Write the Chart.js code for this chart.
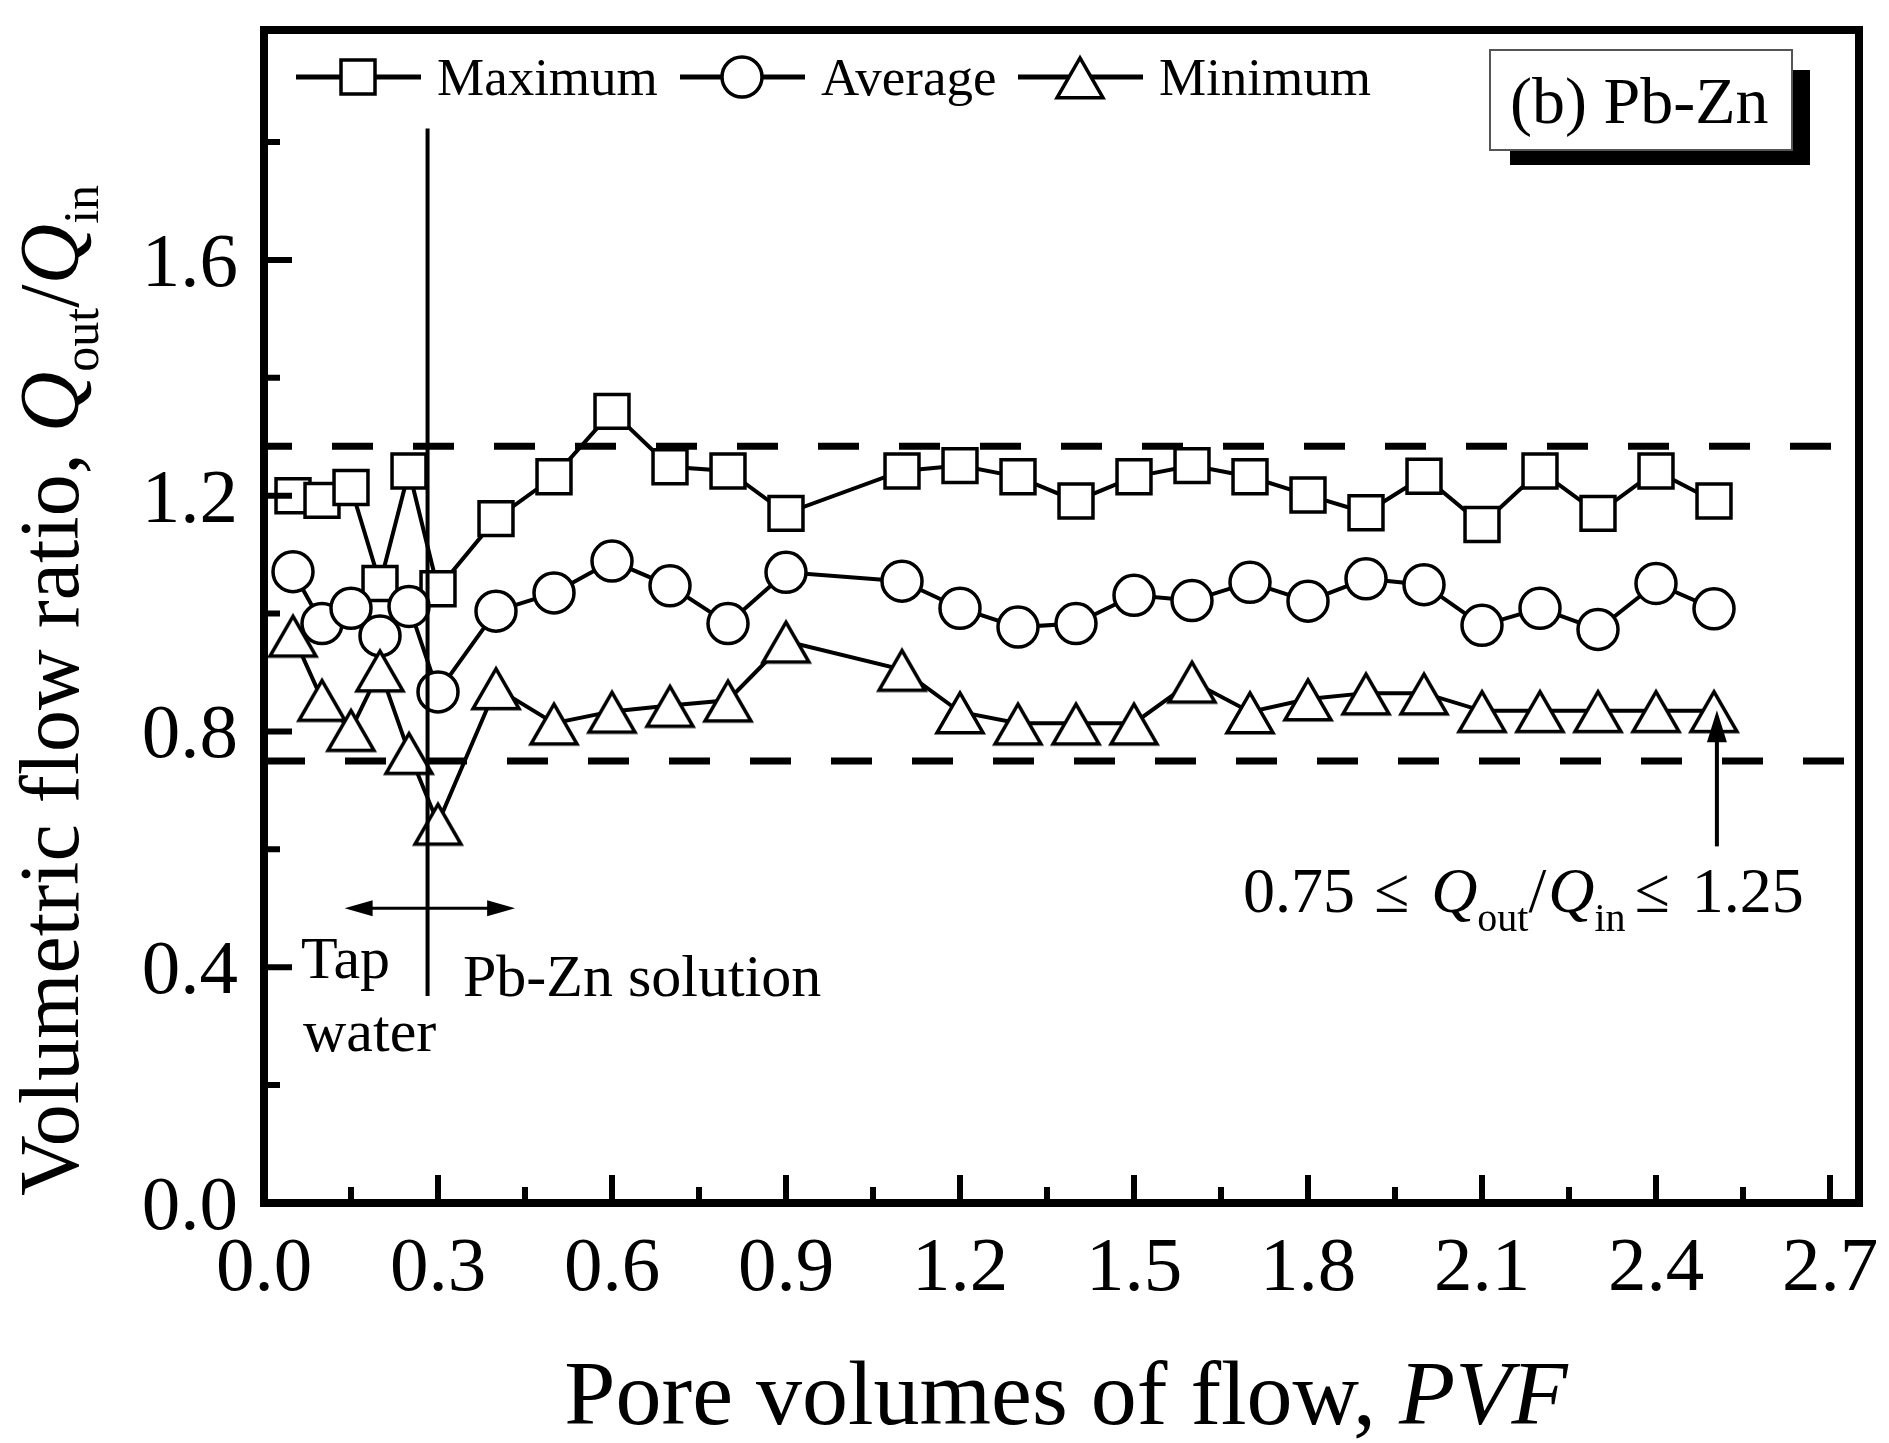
<!DOCTYPE html>
<html>
<head>
<meta charset="utf-8">
<script src="https://cdn.jsdelivr.net/npm/chart.js@4.4.1/dist/chart.umd.min.js"></script>
<style>
  html, body { margin: 0; padding: 0; background: #fff; }
</style>
</head>
<body>
<canvas id="myChart" width="1889" height="1443"></canvas>
<script>
// pore volumes of flow (x) and the three flow ratio series
const pvf = [0.05, 0.1, 0.15, 0.2, 0.25, 0.3, 0.4, 0.5, 0.6, 0.7, 0.8, 0.9, 1.1, 1.2, 1.3, 1.4, 1.5, 1.6, 1.7, 1.8, 1.9, 2.0, 2.1, 2.2, 2.3, 2.4, 2.5];
const maximum = [1.200, 1.192, 1.214, 1.051, 1.242, 1.042, 1.161, 1.232, 1.343, 1.249, 1.242, 1.170, 1.242, 1.251, 1.232, 1.191, 1.232, 1.251, 1.232, 1.201, 1.171, 1.233, 1.151, 1.242, 1.170, 1.242, 1.191];
const average = [1.071, 0.983, 1.009, 0.962, 1.012, 0.867, 1.004, 1.035, 1.089, 1.047, 0.983, 1.070, 1.055, 1.009, 0.977, 0.983, 1.031, 1.022, 1.053, 1.021, 1.059, 1.049, 0.980, 1.009, 0.973, 1.051, 1.008];
const minimum = [0.963, 0.854, 0.803, 0.904, 0.764, 0.644, 0.874, 0.814, 0.834, 0.844, 0.853, 0.953, 0.905, 0.833, 0.814, 0.814, 0.814, 0.885, 0.833, 0.855, 0.865, 0.865, 0.835, 0.835, 0.835, 0.835, 0.835];
const seriesNames = ['Maximum', 'Average', 'Minimum'];

// guide lines
const limitX = [0, 2.75];
const limitLower = [0.75, 0.75];
const limitUpper = [1.284, 1.284];
const switchX = [0.282, 0.282];
const switchY = [0.351, 1.823];

// axes
const xTicks = [0, 0.3, 0.6, 0.9, 1.2, 1.5, 1.8, 2.1, 2.4, 2.7];
const xTickLabels = ['0.0', '0.3', '0.6', '0.9', '1.2', '1.5', '1.8', '2.1', '2.4', '2.7'];
const xMinorTicks = [0.15, 0.45, 0.75, 1.05, 1.35, 1.65, 1.95, 2.25, 2.55];
const yTicks = [0, 0.4, 0.8, 1.2, 1.6];
const yTickLabels = ['0.0', '0.4', '0.8', '1.2', '1.6'];
const yMinorTicks = [0.2, 0.6, 1.0, 1.4, 1.8];

const SERIF = '"Liberation Serif", "Times New Roman", serif';
const font = (size, style) => (style ? style + ' ' : '') + size + 'px ' + SERIF;

function makeTriangle(side, lw) {
  const h = side * Math.sqrt(3) / 2;
  const c = document.createElement('canvas');
  c.width = Math.ceil(side + lw * 4);
  c.height = Math.ceil(h + lw * 4);
  const g = c.getContext('2d');
  const cx = c.width / 2, cy = c.height / 2 + lw / 4;
  g.beginPath();
  g.moveTo(cx, cy - h / 2);
  g.lineTo(cx + side / 2, cy + h / 2);
  g.lineTo(cx - side / 2, cy + h / 2);
  g.closePath();
  g.fillStyle = '#fff';
  g.fill();
  g.lineWidth = lw;
  g.lineJoin = 'miter';
  g.strokeStyle = '#000';
  g.stroke();
  return c;
}
const triangle = makeTriangle(46, 3.5);

function pts(xs, ys) {
  return xs.map((x, i) => ({ x: x, y: ys[i] }));
}

function drawRuns(ctx, runs, x, y) {
  ctx.textAlign = 'left';
  ctx.textBaseline = 'alphabetic';
  runs.forEach(r => {
    x += r.gap || 0;
    ctx.font = r.font;
    ctx.fillText(r.t, x, y + (r.dy || 0));
    x += ctx.measureText(r.t).width;
  });
  return x;
}
function runsWidth(ctx, runs) {
  let w = 0;
  runs.forEach(r => { ctx.font = r.font; w += (r.gap || 0) + ctx.measureText(r.t).width; });
  return w;
}

function arrowHead(ctx, tx, ty, dx, dy, len, hw) {
  const bx = tx - dx * len, by = ty - dy * len;
  ctx.beginPath();
  ctx.moveTo(tx, ty);
  ctx.lineTo(bx - dy * hw, by + dx * hw);
  ctx.lineTo(bx + dy * hw, by - dx * hw);
  ctx.closePath();
  ctx.fill();
}

function legendMarker(ctx, kind, cx, cy) {
  ctx.fillStyle = '#fff';
  ctx.strokeStyle = '#000';
  ctx.lineWidth = 3.5;
  if (kind === 'rect') {
    ctx.fillRect(cx - 17, cy - 17, 34, 34);
    ctx.strokeRect(cx - 17, cy - 17, 34, 34);
  } else if (kind === 'circle') {
    ctx.beginPath();
    ctx.arc(cx, cy, 20, 0, Math.PI * 2);
    ctx.fill();
    ctx.stroke();
  } else {
    ctx.drawImage(triangle, cx - triangle.width / 2, cy - triangle.height / 2);
  }
}

const decorations = {
  id: 'decorations',
  afterDraw(chart) {
    const ctx = chart.ctx;
    const a = chart.chartArea;
    const xs = chart.scales.x, ys = chart.scales.y;
    ctx.save();
    ctx.strokeStyle = '#000';
    ctx.fillStyle = '#000';

    // tick marks, pointing inward
    ctx.lineWidth = 6;
    ctx.beginPath();
    xTicks.forEach(v => { const p = xs.getPixelForValue(v); ctx.moveTo(p, a.bottom); ctx.lineTo(p, a.bottom - 28); });
    xMinorTicks.forEach(v => { const p = xs.getPixelForValue(v); ctx.moveTo(p, a.bottom); ctx.lineTo(p, a.bottom - 16); });
    yTicks.forEach(v => { const p = ys.getPixelForValue(v); ctx.moveTo(a.left, p); ctx.lineTo(a.left + 28, p); });
    yMinorTicks.forEach(v => { const p = ys.getPixelForValue(v); ctx.moveTo(a.left, p); ctx.lineTo(a.left + 16, p); });
    ctx.stroke();

    // frame
    ctx.lineWidth = 8;
    ctx.strokeRect(a.left, a.top, a.right - a.left, a.bottom - a.top);

    // tick labels
    ctx.font = font(77);
    ctx.textBaseline = 'alphabetic';
    ctx.textAlign = 'center';
    xTicks.forEach((v, i) => ctx.fillText(xTickLabels[i], xs.getPixelForValue(v), 1290));
    ctx.textAlign = 'right';
    yTicks.forEach((v, i) => ctx.fillText(yTickLabels[i], 238, ys.getPixelForValue(v) + 26));

    // axis titles
    const xTitle = [
      { t: 'Pore volumes of flow, ', font: font(92) },
      { t: 'PVF', font: font(92, 'italic') }
    ];
    drawRuns(ctx, xTitle, 1066 - runsWidth(ctx, xTitle) / 2, 1424);

    const yTitle = [
      { t: 'Volumetric flow ratio, ', font: font(84) },
      { t: 'Q', font: font(84, 'italic') },
      { t: 'out', font: font(50), dy: 20 },
      { t: '/', font: font(84) },
      { t: 'Q', font: font(84, 'italic') },
      { t: 'in', font: font(50), dy: 20 }
    ];
    ctx.save();
    ctx.translate(78, 1196);
    ctx.rotate(-Math.PI / 2);
    drawRuns(ctx, yTitle, 0, 0);
    ctx.restore();

    // legend
    const kinds = ['rect', 'circle', 'triangle'];
    const starts = [296, 680, 1018];
    seriesNames.forEach((name, i) => {
      const x0 = starts[i];
      ctx.strokeStyle = '#000';
      ctx.lineWidth = 5;
      ctx.beginPath();
      ctx.moveTo(x0, 77);
      ctx.lineTo(x0 + 125, 77);
      ctx.stroke();
      legendMarker(ctx, kinds[i], x0 + 62, 77);
      ctx.fillStyle = '#000';
      ctx.font = font(53);
      ctx.textAlign = 'left';
      ctx.fillText(name, x0 + 141, 95);
    });

    // panel label
    ctx.fillStyle = '#000';
    ctx.fillRect(1510, 70, 300, 95);
    ctx.fillStyle = '#fff';
    ctx.fillRect(1490, 50, 302, 100);
    ctx.strokeStyle = '#555';
    ctx.lineWidth = 2;
    ctx.strokeRect(1490, 50, 302, 100);
    ctx.fillStyle = '#000';
    ctx.font = font(66);
    ctx.textAlign = 'left';
    ctx.fillText('(b) Pb-Zn', 1510, 123);

    // double arrow across the switch line
    ctx.strokeStyle = '#000';
    const ay = ys.getPixelForValue(0.50);
    const axl = xs.getPixelForValue(0.139), axr = xs.getPixelForValue(0.433);
    ctx.lineWidth = 3;
    ctx.beginPath();
    ctx.moveTo(axl + 20, ay);
    ctx.lineTo(axr - 20, ay);
    ctx.stroke();
    arrowHead(ctx, axl, ay, -1, 0, 28, 8);
    arrowHead(ctx, axr, ay, 1, 0, 28, 8);

    ctx.font = font(60);
    ctx.fillText('Tap', 301, 978);
    ctx.fillText('water', 303, 1051);
    ctx.fillText('Pb-Zn solution', 463, 996);

    // arrow pointing at the last minimum
    const vx = xs.getPixelForValue(2.505);
    const vt = ys.getPixelForValue(0.836), vb = ys.getPixelForValue(0.605);
    ctx.lineWidth = 4;
    ctx.beginPath();
    ctx.moveTo(vx, vb);
    ctx.lineTo(vx, vt + 20);
    ctx.stroke();
    arrowHead(ctx, vx, vt, 0, -1, 32, 10);

    const range = [
      { t: '0.75', font: font(64) },
      { t: '\u2264', font: font(64), gap: 19 },
      { t: 'Q', font: font(64, 'italic'), gap: 22 },
      { t: 'out', font: font(40), dy: 19 },
      { t: '/', font: font(64) },
      { t: 'Q', font: font(64, 'italic'), gap: 2 },
      { t: 'in', font: font(40), dy: 19 },
      { t: '\u2264', font: font(64), gap: 9 },
      { t: '1.25', font: font(64), gap: 22 }
    ];
    drawRuns(ctx, range, 1243, 912);

    ctx.restore();
  }
};

new Chart(document.getElementById('myChart'), {
  type: 'line',
  data: {
    datasets: [
      {
        label: 'upper limit',
        data: pts(limitX, limitUpper),
        borderColor: '#000', borderWidth: 7, borderDash: [41, 40], borderDashOffset: 13,
        pointRadius: 0, order: 0
      },
      {
        label: 'lower limit',
        data: pts(limitX, limitLower),
        borderColor: '#000', borderWidth: 7, borderDash: [41, 40],
        pointRadius: 0, order: 0
      },
      {
        label: 'switch',
        data: pts(switchX, switchY),
        borderColor: '#000', borderWidth: 4,
        pointRadius: 0, order: 0
      },
      {
        label: seriesNames[0],
        data: pts(pvf, maximum),
        borderColor: '#000', borderWidth: 4,
        pointStyle: 'rect', pointRadius: 24, pointBorderWidth: 3.5,
        pointBackgroundColor: '#fff', pointBorderColor: '#000',
        order: 3
      },
      {
        label: seriesNames[1],
        data: pts(pvf, average),
        borderColor: '#000', borderWidth: 4,
        pointStyle: 'circle', pointRadius: 20, pointBorderWidth: 3.5,
        pointBackgroundColor: '#fff', pointBorderColor: '#000',
        order: 2
      },
      {
        label: seriesNames[2],
        data: pts(pvf, minimum),
        borderColor: '#000', borderWidth: 4,
        pointStyle: triangle, pointRadius: 26,
        order: 1
      }
    ]
  },
  options: {
    responsive: false,
    animation: false,
    devicePixelRatio: 1,
    layout: { padding: { left: 264, top: 15, right: 23, bottom: 240 } },
    plugins: {
      legend: { display: false },
      tooltip: { enabled: false }
    },
    scales: {
      x: { type: 'linear', min: 0, max: 2.75, display: false },
      y: { type: 'linear', min: 0, max: 1.99, display: false }
    }
  },
  plugins: [decorations]
});
</script>
</body>
</html>
